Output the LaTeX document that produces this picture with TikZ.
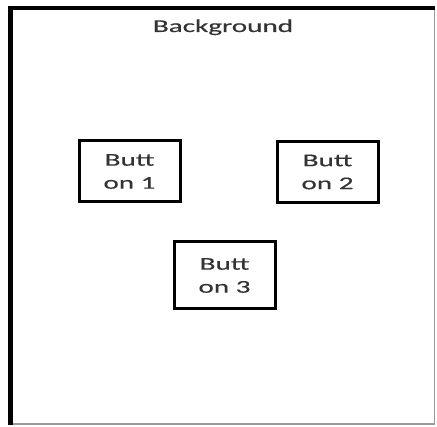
\documentclass[tikz,border=0pt]{standalone}
\usepackage{fontspec}
\newfontfamily\btnfont[FakeStretch=1.62,FakeBold=0.4]{Carlito}
\tikzset{
  btn/.style={draw=black, line width=3pt, rectangle, inner sep=0pt,
    minimum width=101pt, minimum height=61pt, align=center,
    text=black!80, font=\btnfont\fontsize{18}{23}\selectfont},
  lbl/.style={text=black!80, font=\btnfont\fontsize{18}{23}\selectfont, inner sep=0pt}
}
\begin{document}
\begin{tikzpicture}[x=1pt,y=-1pt]
\useasboundingbox (0,0) rectangle (437,427);
% outer frame
\draw[black!40, line width=1.2pt] (10.5,424) -- (434.5,424) -- (434.5,8);
\draw[black, line width=4.5pt] (434.5,8) -- (10.5,8) -- (10.5,425);
\node[lbl, anchor=base] (bg) at (223,32) {Background};
\node[btn] (b1) at (129.5,171.5) {Butt\\on 1};
\node[btn] (b2) at (327.5,172) {Butt\\on 2};
\node[btn] (b3) at (224.5,275.5) [minimum height=67pt] {Butt\\on 3};
\end{tikzpicture}
\end{document}
